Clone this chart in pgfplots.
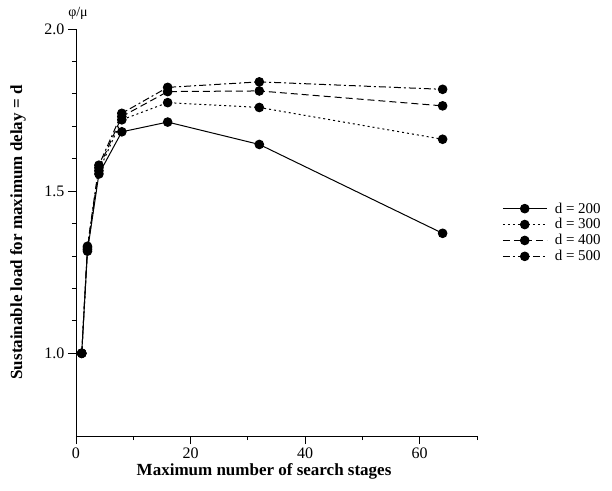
\documentclass[border=0pt]{standalone}
\usepackage{pgfplots}
\pgfplotsset{compat=1.18}
\usepackage{fontspec}
\setmainfont{Liberation Serif}

\begin{document}
\begin{tikzpicture}
\begin{axis}[name=ax,
  scale only axis,
  width=401pt, height=407pt,
  axis lines=left,
  axis line style={-, line width=0.9pt},
  xmin=0, xmax=70,
  ymin=0.745, ymax=2.0,
  xtick={0,20,40,60},
  minor xtick={10,30,50,70},
  ytick={1.0,1.5,2.0},
  minor y tick num=4,
  tick align=outside,
  major tick length=8pt,
  minor tick length=4pt,
  every tick/.style={black, line width=0.9pt},
  yticklabel style={/pgf/number format/.cd, fixed, fixed zerofill, precision=1},
  /pgf/number format/assume math mode=true,
  ticklabel style={font=\fontsize{16}{18}\selectfont},
  xlabel={\bfseries Maximum number of search stages},
  ylabel={\bfseries Sustainable load for maximum delay = d},
  label style={font=\fontsize{17}{19}\selectfont},
  xlabel style={at={(axis description cs:0.469,-0.088)}, anchor=center},
  ylabel style={at={(axis description cs:-0.145,0.5)}, anchor=center},
  clip=false,
  legend style={at={(1.055,0.5)}, anchor=west, draw=none, fill=none,
    font=\fontsize{15}{17}\selectfont, row sep=1pt,
    nodes={inner sep=1.5pt},
    /tikz/every odd column/.append style={column sep=6pt}},
  legend cell align=left,
  legend image code/.code={\draw[mark repeat=2,mark phase=2,#1] plot coordinates {(0pt,0pt) (22pt,0pt) (44pt,0pt)};},
  every axis plot/.append style={black, line width=1pt, mark=*, mark size=4.3pt,
    mark options={solid}},
]
\addplot[solid] coordinates {
  (1,1.0) (2,1.315) (4,1.553) (8,1.683) (16,1.713) (32,1.644) (64,1.37)};
\addplot[dash pattern=on 2pt off 3pt] coordinates {
  (1,1.0) (2,1.32) (4,1.563) (8,1.72) (16,1.773) (32,1.758) (64,1.66)};
\addplot[dash pattern=on 7pt off 4pt] coordinates {
  (1,1.0) (2,1.325) (4,1.572) (8,1.73) (16,1.807) (32,1.809) (64,1.763)};
\addplot[dash pattern=on 7pt off 3pt on 2pt off 3pt] coordinates {
  (1,1.0) (2,1.33) (4,1.58) (8,1.74) (16,1.82) (32,1.837) (64,1.814)};
\legend{d = 200, d = 300, d = 400, d = 500}
\node[font=\fontsize{14}{16}\selectfont] at (axis description cs:0.005,1.039) {φ/μ};
\end{axis}
\path ([shift={(-76pt,-54pt)}]ax.south west) rectangle ([shift={(135pt,29pt)}]ax.north east);
\end{tikzpicture}
\end{document}
